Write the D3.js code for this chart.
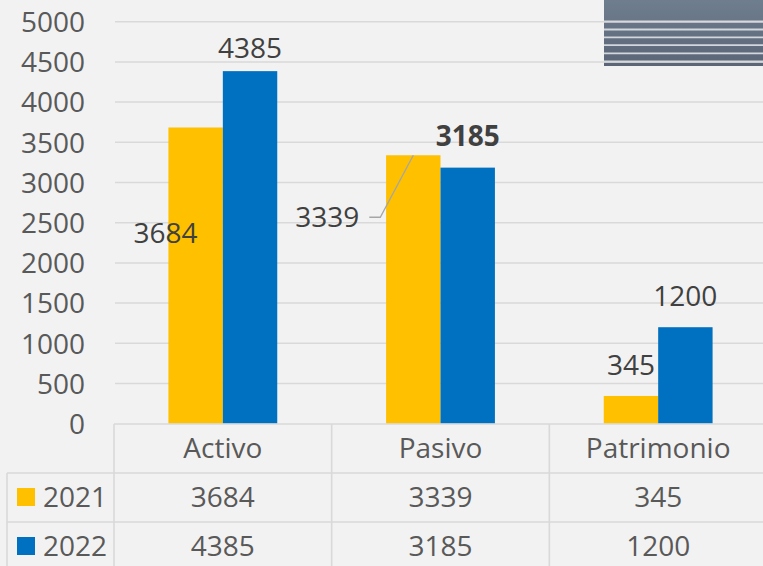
<!DOCTYPE html>
<html>
<head>
<meta charset="utf-8">
<script src="https://cdn.jsdelivr.net/npm/d3@7"></script>
<style>
	body { margin: 0; background: #f2f2f2; }
	svg { display: block; font-family: "Open Sans", sans-serif; }
</style>
</head>
<body>
<svg id="chart"></svg>
<script>
var categories = ["Activo", "Pasivo", "Patrimonio"];
var seriesNames = ["2021", "2022"];
var values2021 = [3684, 3339, 345];
var values2022 = [4385, 3185, 1200];
var yTicks = [0, 500, 1000, 1500, 2000, 2500, 3000, 3500, 4000, 4500, 5000];
var colors = ["#ffc000", "#0070c0"];

var series = [
	{name: seriesNames[0], data: values2021},
	{name: seriesNames[1], data: values2022}
];

var W = 763, H = 566;
var fontSize = 28;
var gridColor = "#d9d9d9";

var svg = d3.select("#chart").attr("width", W).attr("height", H);
svg.append("rect").attr("width", W).attr("height", H).attr("fill", "#f2f2f2");

var x0 = d3.scaleBand().domain(categories).range([114, 767]).paddingInner(0.5).paddingOuter(0.25);
var x1 = d3.scaleBand().domain(seriesNames).range([0, x0.bandwidth()]);
var y = d3.scaleLinear().domain([0, 5000]).range([423.7, 21.7]);

// decorative picture top right
var deco = svg.append("g");
var grad = svg.append("defs").append("linearGradient").attr("id", "deco").attr("x1", 0).attr("y1", 0).attr("x2", 0).attr("y2", 1);
grad.append("stop").attr("offset", "0%").attr("stop-color", "#6f7e8f");
grad.append("stop").attr("offset", "100%").attr("stop-color", "#5a6577");
deco.append("rect").attr("x", 604).attr("y", 0).attr("width", 159).attr("height", 66).attr("fill", "url(#deco)");
[21.5, 29.5, 37.3, 45.2, 53.3, 61.5].forEach(function(s) {
	deco.append("line").attr("x1", 604).attr("x2", 763).attr("y1", s).attr("y2", s)
		.attr("stroke", "#d3d7dc").attr("stroke-width", 1.8);
});

// grid lines
var g = svg.append("g");
g.append("g").attr("class", "grid")
	.selectAll("line").data(yTicks.filter(function(d) { return d > 0; })).enter().append("line")
	.attr("x1", 115).attr("x2", W)
	.attr("y1", function(d) { return y(d); }).attr("y2", function(d) { return y(d); })
	.attr("stroke", gridColor).attr("stroke-width", 1.5);

// y axis labels
var yAxis = d3.axisLeft(y).tickValues(yTicks).tickFormat(d3.format("d")).tickSize(0).tickPadding(0);
g.append("g").attr("transform", "translate(85,0)").call(yAxis)
	.call(function(a) { a.select(".domain").remove(); })
	.selectAll("text")
	.attr("font-family", "'Open Sans', sans-serif")
	.attr("font-size", fontSize).attr("fill", "#595959").attr("dy", "0.35em");

// bars
var cat = g.selectAll(".cat").data(categories).enter().append("g")
	.attr("transform", function(d) { return "translate(" + x0(d) + ",0)"; });
cat.selectAll("rect").data(function(c, i) {
	return series.map(function(s, j) { return {cat: c, name: s.name, value: s.data[i], j: j}; });
}).enter().append("rect")
	.attr("x", function(d) { return x1(d.name); })
	.attr("width", x1.bandwidth())
	.attr("y", function(d) { return y(d.value); })
	.attr("height", function(d) { return y(0) - y(d.value); })
	.attr("fill", function(d) { return colors[d.j]; });

// data labels (some were moved by hand in the original)
var labelMove = {
	"Activo|2021": {dx: -30, dy: 115.5, anchor: "middle"},
	"Activo|2022": {dx: 0, dy: -13, anchor: "middle"},
	"Pasivo|2021": {dx: -54, dy: 72, anchor: "end", leader: true},
	"Pasivo|2022": {dx: 0, dy: -21.5, anchor: "middle", bold: true}
};
var labels = [];
categories.forEach(function(c, i) {
	series.forEach(function(s) {
		var m = labelMove[c + "|" + s.name] || {dx: 0, dy: -21, anchor: "middle"};
		labels.push({cat: c, name: s.name, value: s.data[i], m: m,
			cx: x0(c) + x1(s.name) + x1.bandwidth() / 2, top: y(s.data[i])});
	});
});
labels.filter(function(d) { return d.m.leader; }).forEach(function(d) {
	var lx = d.cx + d.m.dx + 10, ly = d.top + d.m.dy - 10;
	g.append("polyline")
		.attr("points", [[lx, ly], [lx + 11, ly], [d.cx, d.top]].join(" "))
		.attr("fill", "none").attr("stroke", "#a6a6a6").attr("stroke-width", 1.3);
});
g.selectAll(".lbl").data(labels).enter().append("text")
	.attr("x", function(d) { return d.cx + d.m.dx; })
	.attr("y", function(d) { return d.top + d.m.dy; })
	.attr("text-anchor", function(d) { return d.m.anchor; })
	.attr("font-size", fontSize)
	.attr("font-weight", function(d) { return d.m.bold ? "bold" : "normal"; })
	.attr("fill", "#404040")
	.text(function(d) { return d.value; });

// data table
var step = x0.step();
var left = x0.range()[0];
var rowY = [424, 473, 522, 571];
var t = svg.append("g");
var line = function(x1_, y1_, x2_, y2_) {
	t.append("line").attr("x1", x1_).attr("y1", y1_).attr("x2", x2_).attr("y2", y2_)
		.attr("stroke", gridColor).attr("stroke-width", 1.6);
};
line(left, rowY[0], W, rowY[0]);
line(7, rowY[1], W, rowY[1]);
line(7, rowY[2], W, rowY[2]);
line(7, rowY[1], 7, H);
categories.forEach(function(c, i) { line(left + i * step, rowY[0], left + i * step, H); });

t.selectAll(".hdr").data(categories).enter().append("text")
	.attr("x", function(d) { return x0(d) + x0.bandwidth() / 2; })
	.attr("y", (rowY[0] + rowY[1]) / 2).attr("dy", "0.35em")
	.attr("text-anchor", "middle").attr("font-size", fontSize).attr("fill", "#595959")
	.text(function(d) { return d; });

series.forEach(function(s, j) {
	var cy = (rowY[j + 1] + rowY[j + 2]) / 2;
	t.append("rect").attr("x", 17).attr("y", cy - 9.5).attr("width", 18).attr("height", 18).attr("fill", colors[j]);
	t.append("text").attr("x", 43).attr("y", cy).attr("dy", "0.35em")
		.attr("font-size", fontSize).attr("fill", "#595959").text(s.name);
	t.selectAll(".v" + j).data(s.data).enter().append("text")
		.attr("x", function(d, i) { return x0(categories[i]) + x0.bandwidth() / 2; })
		.attr("y", cy).attr("dy", "0.35em")
		.attr("text-anchor", "middle").attr("font-size", fontSize).attr("fill", "#595959")
		.text(function(d) { return d; });
});
</script>
</body>
</html>
